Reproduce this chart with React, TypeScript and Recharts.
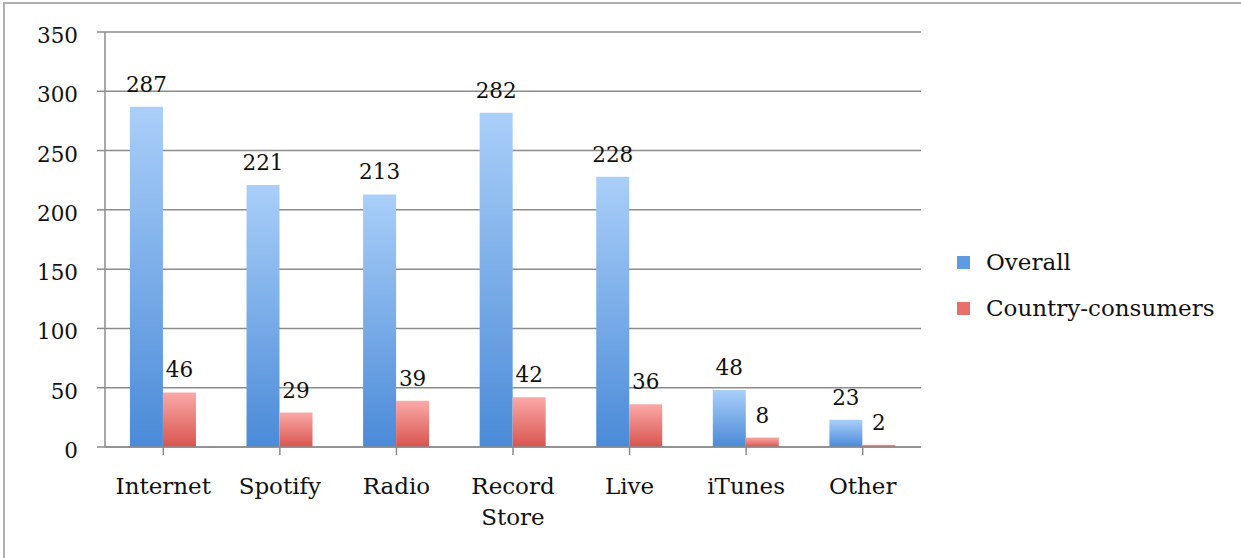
import React from 'react';
import { BarChart, Bar, XAxis, YAxis, CartesianGrid, LabelList } from 'recharts';

// Listening channels and respondent counts
const categories = ['Internet', 'Spotify', 'Radio', 'Record Store', 'Live', 'iTunes', 'Other'];
const overall = [287, 221, 213, 282, 228, 48, 23];
const countryConsumers = [46, 29, 39, 42, 36, 8, 2];
const yTicks = [0, 50, 100, 150, 200, 250, 300, 350];

const seriesNames = { overall: 'Overall', country: 'Country-consumers' };

const data = categories.map((name, i) => ({
  name,
  overall: overall[i],
  country: countryConsumers[i],
}));

const FONT = '"DejaVu Serif", serif';
const TEXT = '#111';
const GRID = '#8c8c8c';
const NUM_SIZE = 21.5;
const WORD_SIZE = 23;

const CategoryTick = (props: any) => {
  const { x, y, payload } = props;
  const words = String(payload.value).split(' ');
  return (
    <text x={x} y={y} textAnchor="middle" fontFamily={FONT} fontSize={WORD_SIZE} fill={TEXT}>
      {words.map((w: string, i: number) => (
        <tspan key={i} x={x} dy={i === 0 ? '0.75em' : 31}>
          {w}
        </tspan>
      ))}
    </text>
  );
};

const ValueTick = (props: any) => {
  const { x, y, payload } = props;
  return (
    <text x={x} y={y} dy={11} textAnchor="end" fontFamily={FONT} fontSize={NUM_SIZE} fill={TEXT}>
      {payload.value}
    </text>
  );
};

const LegendItem = ({ color, label }: { color: string; label: string }) => (
  <div style={{ display: 'flex', alignItems: 'center', height: 46 }}>
    <div
      style={{
        width: 13,
        height: 13,
        background: color,
        marginRight: 16,
      }}
    />
    <span style={{ fontFamily: FONT, fontSize: WORD_SIZE, color: TEXT }}>{label}</span>
  </div>
);

export default function App() {
  return (
    <div style={{ position: 'relative', width: 1241, height: 558, background: '#fff', overflow: 'hidden' }}>
      <style>{'body{margin:0}'}</style>
      <div
        style={{
          position: 'absolute',
          left: 3,
          top: 2,
          width: 1260,
          height: 600,
          border: '2px solid #b0b0b0',
          boxSizing: 'border-box',
        }}
      />
      <BarChart
        width={1241}
        height={558}
        data={data}
        margin={{ top: 32, right: 320, bottom: 30, left: 0 }}
        barCategoryGap="21.4%"
        barGap={0}
        style={{ position: 'absolute', left: 0, top: 0 }}
      >
        <defs>
          <linearGradient id="gradOverall" x1="0" y1="0" x2="0" y2="1">
            <stop offset="0%" stopColor="#aacff9" />
            <stop offset="100%" stopColor="#4a8ad8" />
          </linearGradient>
          <linearGradient id="gradCountry" x1="0" y1="0" x2="0" y2="1">
            <stop offset="0%" stopColor="#faa9a7" />
            <stop offset="100%" stopColor="#d9544e" />
          </linearGradient>
        </defs>
        <CartesianGrid vertical={false} stroke={GRID} strokeWidth={1.5} />
        <XAxis
          dataKey="name"
          height={81}
          axisLine={{ stroke: GRID, strokeWidth: 1.5 }}
          tickLine={{ stroke: GRID, strokeWidth: 1.5 }}
          tickSize={8}
          tickMargin={22}
          interval={0}
          tick={<CategoryTick />}
          padding={{ left: 0, right: 0 }}
        />
        <YAxis
          domain={[0, 350]}
          ticks={yTicks}
          axisLine={{ stroke: GRID, strokeWidth: 1.5 }}
          tickLine={{ stroke: GRID, strokeWidth: 1.5 }}
          tickSize={8}
          tickMargin={19}
          width={105}
          tick={<ValueTick />}
        />
        <Bar dataKey="overall" name={seriesNames.overall} fill="url(#gradOverall)" isAnimationActive={false}>
          <LabelList dataKey="overall" position="top" offset={15} fontFamily={FONT} fontSize={NUM_SIZE} fill={TEXT} />
        </Bar>
        <Bar dataKey="country" name={seriesNames.country} fill="url(#gradCountry)" isAnimationActive={false}>
          <LabelList dataKey="country" position="top" offset={15} fontFamily={FONT} fontSize={NUM_SIZE} fill={TEXT} />
        </Bar>
      </BarChart>
      <div style={{ position: 'absolute', left: 957, top: 239 }}>
        <LegendItem color="#5d9be3" label={seriesNames.overall} />
        <LegendItem color="#e8706b" label={seriesNames.country} />
      </div>
    </div>
  );
}
